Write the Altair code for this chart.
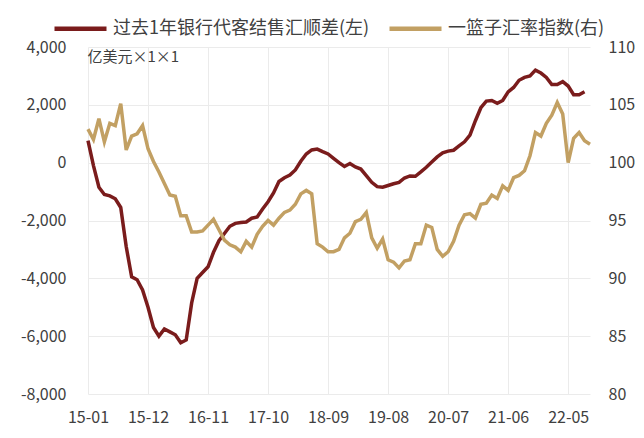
import altair as alt
import pandas as pd

# ---- data ----
months = [f"{15 + i // 12:02d}-{i % 12 + 1:02d}" for i in range(93)]  # 15-01 ... 22-09
tick_labels = ["15-01", "15-12", "16-11", "17-10", "18-09", "19-08", "20-07", "21-06", "22-05"]
left_ticks = [-8000, -6000, -4000, -2000, 0, 2000, 4000]
right_ticks = [80, 85, 90, 95, 100, 105, 110]
series_names = ["过去1年银行代客结售汇顺差(左)", "一篮子汇率指数(右)"]
series_colors = ["#7A1C1C", "#C2A063"]

fx_balance = [
    760, -100, -850, -1100, -1150, -1250, -1550, -2900, -3950, -4050,
    -4400, -5000, -5700, -6000, -5750, -5850, -5950, -6230, -6130, -4850,
    -4000, -3800, -3600, -3100, -2700, -2450, -2200, -2100, -2070, -2050,
    -1920, -1880, -1600, -1350, -1050, -650, -520, -430, -250, 50,
    300, 440, 470, 380, 300, 150, 0, -130, -30, -150,
    -220, -450, -680, -830, -850, -790, -730, -680, -530, -460,
    -470, -320, -160, 20, 200, 340, 400, 430, 580, 720,
    950, 1450, 1900, 2130, 2150, 2050, 2150, 2450, 2600, 2850,
    2950, 3000, 3200, 3100, 2950, 2700, 2700, 2800, 2650, 2350,
    2350, 2450, None,
]

basket_index = [
    102.9, 102.0, 103.8, 101.8, 103.4, 103.2, 105.1, 101.1, 102.3, 102.5,
    103.2, 101.2, 100.1, 99.2, 98.2, 97.2, 97.1, 95.4, 95.4, 94.0,
    94.0, 94.1, 94.6, 95.1, 94.2, 93.3, 92.9, 92.7, 92.3, 93.2,
    92.7, 93.8, 94.5, 95.0, 94.6, 95.2, 95.7, 95.9, 96.4, 97.3,
    97.6, 97.3, 93.0, 92.7, 92.3, 92.3, 92.5, 93.5, 93.9, 94.9,
    95.1, 95.7, 93.5, 92.6, 93.4, 91.6, 91.4, 90.9, 91.5, 91.6,
    93.0, 93.0, 94.6, 94.4, 92.5, 91.9, 92.3, 93.2, 94.6, 95.5,
    95.6, 95.2, 96.4, 96.5, 97.2, 96.9, 98.0, 97.6, 98.7, 98.9,
    99.3, 100.6, 102.6, 102.3, 103.4, 104.1, 105.2, 104.2, 100.0, 102.1,
    102.6, 101.9, 101.6,
]

df = pd.DataFrame({"month": months, "fx": fx_balance, "idx": basket_index})

FONT = "Noto Sans CJK SC"
TEXT = "#404040"
GRID = "#ebebeb"

x_enc = alt.X(
    "month:O",
    sort=months,
    scale=alt.Scale(type="point", padding=0),
    axis=alt.Axis(
        values=tick_labels, labelAngle=0, grid=True, gridColor=GRID,
        ticks=False, domain=False, labelFontSize=16, labelPadding=15,
        labelColor=TEXT, title=None,
    ),
)

color_scale = alt.Scale(domain=series_names, range=series_colors)

left = alt.Chart(df).transform_calculate(
    series="'" + series_names[0] + "'"
).mark_line(strokeWidth=3.5).encode(
    x=x_enc,
    y=alt.Y(
        "fx:Q",
        scale=alt.Scale(domain=[-8000, 4000], nice=False),
        axis=alt.Axis(
            values=left_ticks, grid=True, gridColor=GRID, ticks=False, domain=False,
            labelFontSize=16, labelColor=TEXT, labelPadding=22,
            labelExpr="replace(format(datum.value, ','), '\u2212', '-')",
            title="亿美元×1×1", titleAngle=0, titleAlign="left", titleBaseline="top",
            titleX=-1, titleY=2, titleFontSize=15, titleFontWeight="normal",
            titleColor=TEXT,
        ),
    ),
    color=alt.Color(
        "series:N",
        scale=color_scale,
        legend=alt.Legend(
            orient="none", legendX=-36, legendY=-47, direction="horizontal",
            title=None, symbolType="stroke", symbolSize=2704, symbolStrokeWidth=4.5,
            labelFontSize=18, labelColor=TEXT, labelOffset=4, columnPadding=10,
            labelLimit=0,
        ),
    ),
)

right = alt.Chart(df).transform_calculate(
    series="'" + series_names[1] + "'"
).mark_line(strokeWidth=3.5).encode(
    x=x_enc,
    y=alt.Y(
        "idx:Q",
        scale=alt.Scale(domain=[80, 110], nice=False),
        axis=alt.Axis(
            orient="right", values=right_ticks, grid=False, ticks=False, domain=False,
            labelFontSize=16, labelColor=TEXT, labelPadding=18, title=None,
        ),
    ),
    color=alt.Color("series:N", scale=color_scale),
)

chart = (
    alt.layer(left, right)
    .resolve_scale(y="independent")
    .properties(
        width=502, height=347,
        autosize=alt.AutoSizeParams(type="none"),
        padding={"left": 88, "top": 47, "right": 54, "bottom": 44},
    )
    .configure(font=FONT)
    .configure_view(stroke=None)
)

chart.save("out.html", embed_options={"renderer": "svg", "actions": False})
